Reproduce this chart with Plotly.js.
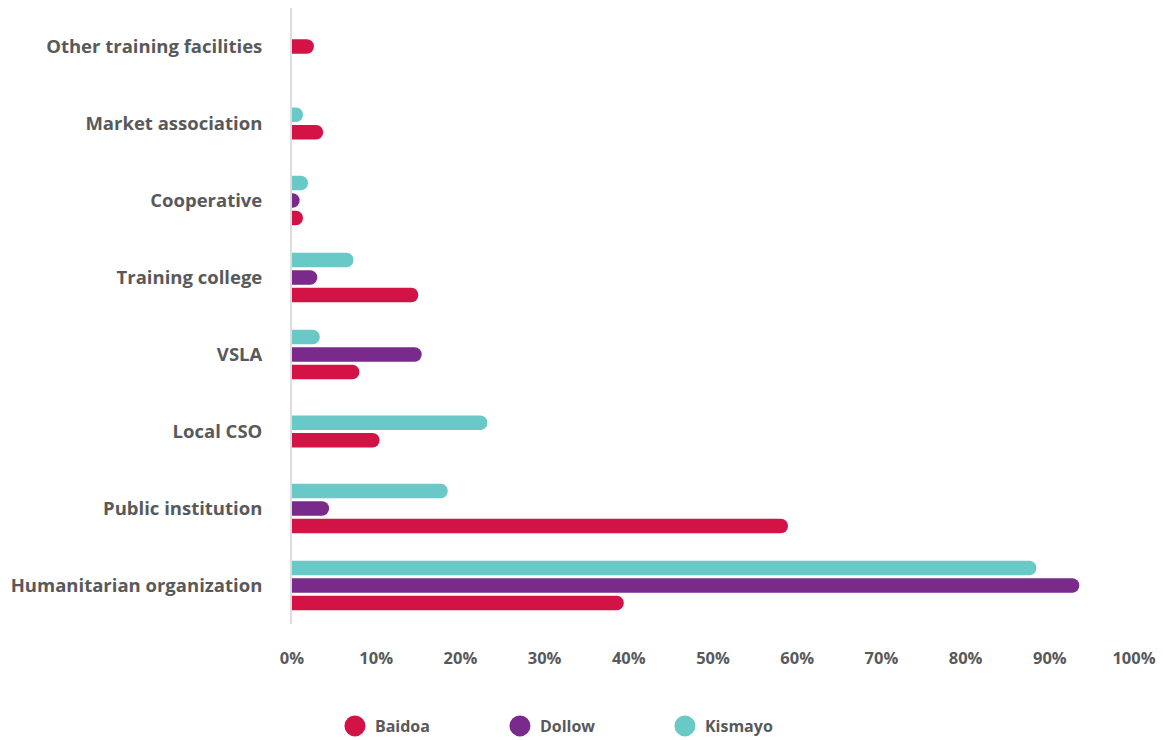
<!DOCTYPE html>
<html>
<head>
<meta charset="utf-8">
<script src="https://cdn.plot.ly/plotly-3.0.1.min.js"></script>
<style>
  html, body { margin: 0; padding: 0; background: #ffffff; }
  #chart { width: 1163px; height: 740px; }
</style>
</head>
<body>
<div id="chart"></div>
<script>
// Categories, listed top to bottom as displayed
const categories = [
  'Other training facilities',
  'Market association',
  'Cooperative',
  'Training college',
  'VSLA',
  'Local CSO',
  'Public institution',
  'Humanitarian organization'
];

// Series values (percent); null = no bar
const baidoa  = [2.6, 3.7, 1.3, 15.0, 8.0, 10.4, 58.9, 39.4];
const dollow  = [null, null, 0.9, 3.0, 15.4, null, 4.4, 93.5];
const kismayo = [null, 1.3, 1.9, 7.3, 3.3, 23.2, 18.5, 88.4];

const seriesNames = ['Baidoa', 'Dollow', 'Kismayo'];
const seriesColors = ['#D31245', '#7A2A8A', '#69C9C6'];

const tickValues = [0, 10, 20, 30, 40, 50, 60, 70, 80, 90, 100];
const tickLabels = ['0%', '10%', '20%', '30%', '40%', '50%', '60%', '70%', '80%', '90%', '100%'];

const seriesValues = [baidoa, dollow, kismayo];

// Bars within each category are packed, skipping missing values
const BAR_W = 0.19;
const PITCH = 0.228;
function offsetsFor(sIdx) {
  return categories.map((c, i) => {
    const present = seriesValues.map(s => s[i] != null);
    const n = present.filter(Boolean).length;
    let k = 0;
    for (let j = 0; j < sIdx; j++) if (present[j]) k++;
    const center = ((n - 1) / 2 - k) * PITCH; // reversed axis: Baidoa lowest
    return center - BAR_W / 2;
  });
}

const textColor = '#58595B';
const labelFont = 'Open Sans, Noto Sans, sans-serif';

const traces = seriesValues.map((vals, s) => ({
  type: 'bar',
  orientation: 'h',
  name: seriesNames[s],
  y: categories,
  x: vals,
  width: BAR_W,
  offset: offsetsFor(s),
  marker: { color: seriesColors[s], line: { width: 0 } },
  showlegend: false,
  hoverinfo: 'x+y+name'
}));

// legend entries with round markers
seriesNames.forEach((nm, s) => {
  traces.push({
    type: 'scatter',
    mode: 'markers',
    name: nm,
    x: [null],
    y: [null],
    marker: { symbol: 'circle', size: 16, color: seriesColors[s], line: { color: seriesColors[s], width: 5 } },
    showlegend: true,
    hoverinfo: 'skip'
  });
});

const layout = {
  width: 1163,
  height: 740,
  margin: { l: 292, r: 29, t: 8, b: 116, autoexpand: false },
  paper_bgcolor: '#ffffff',
  plot_bgcolor: '#ffffff',
  barmode: 'overlay',
  barcornerradius: 7,
  font: { family: labelFont, color: textColor },
  xaxis: {
    range: [0, 100],
    tickvals: tickValues,
    ticktext: tickLabels,
    showgrid: false,
    zeroline: false,
    showline: false,
    ticks: '',
    ticklabelstandoff: 22,
    tickfont: { family: labelFont, size: 16.5, color: textColor, weight: 'bold' },
    fixedrange: true
  },
  yaxis: {
    type: 'category',
    categoryorder: 'array',
    categoryarray: categories,
    autorange: 'reversed',
    showgrid: false,
    zeroline: false,
    showline: true,
    linecolor: '#DDDDDD',
    linewidth: 2,
    ticks: '',
    ticklabelstandoff: 24,
    tickfont: { family: labelFont, size: 18.5, color: textColor, weight: 'bold' },
    fixedrange: true
  },
  showlegend: true,
  legend: {
    orientation: 'h',
    x: 0.051,
    xanchor: 'left',
    y: -0.138,
    yanchor: 'top',
    entrywidth: 120,
    font: { family: labelFont, size: 16, color: textColor, weight: 'bold' },
    bgcolor: 'rgba(0,0,0,0)'
  }
};

Plotly.newPlot('chart', traces, layout, { displayModeBar: false, staticPlot: true });
</script>
</body>
</html>
